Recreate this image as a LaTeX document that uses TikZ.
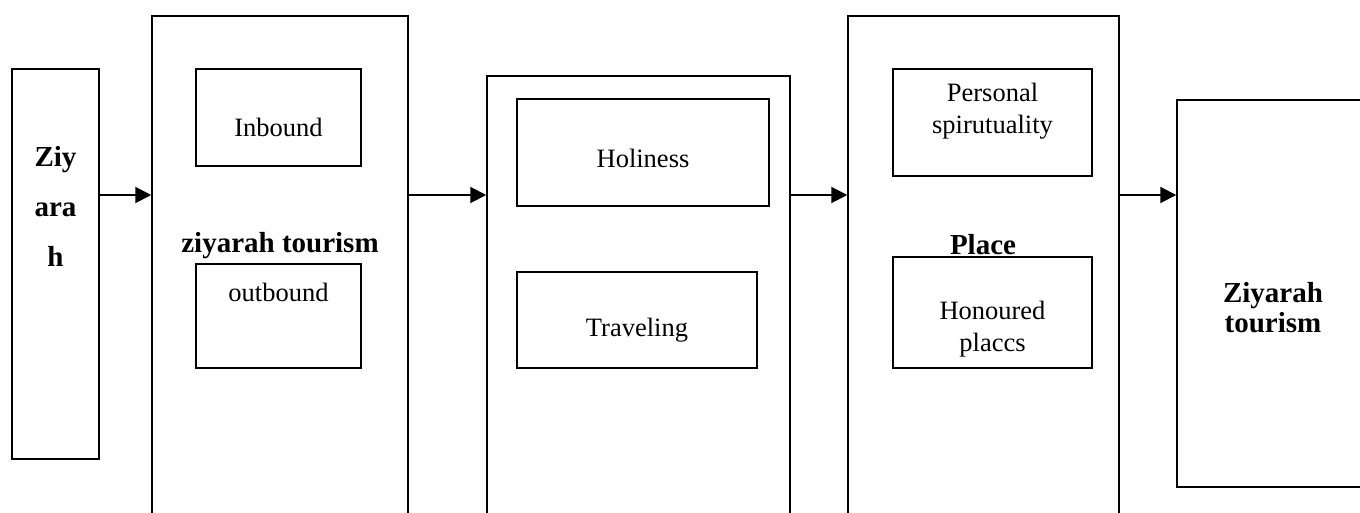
\documentclass[tikz,border=0pt]{standalone}
\usepackage{fontspec}
\setmainfont{Liberation Serif}
\usetikzlibrary{positioning,arrows.meta}

\begin{document}
\begin{tikzpicture}[x=0.5pt,y=-0.5pt,
      box/.style={draw=black,line width=0.75pt,inner sep=0pt},
      txt/.style={font=\fontsize{13.25}{16}\selectfont,align=center,inner sep=0pt},
      head/.style={font=\fontsize{14.5}{15}\selectfont\bfseries,align=center,inner sep=0pt},
      arrow/.style={-{Triangle[length=8pt,width=8pt]},line width=1pt,draw=black}
    ]
    \useasboundingbox (0,0) rectangle (1360,513);
    \clip (0,0) rectangle (1360,513);
    % outer boxes
    \node[box,minimum width=43.5pt,minimum height=195pt] at (55.5,264) (ziy) {};
    \node[box,minimum width=128pt,minimum height=292pt] at (280,308) (tour) {};
    \node[box,minimum width=151.5pt,minimum height=262pt] at (638.5,338) (motive) {};
    \node[box,minimum width=135.5pt,minimum height=292pt] at (983.5,308) (place) {};
    \node[box,minimum width=111.5pt,minimum height=193.5pt] at (1288.5,293.5) (result) {};
    % inner boxes
    \node[box,minimum width=82.5pt,minimum height=48.5pt] at (278.5,117.5) (inb) {};
    \node[box,minimum width=82.5pt,minimum height=52pt] at (278.5,316) (outb) {};
    \node[box,minimum width=126pt,minimum height=53.5pt] at (643,152.5) (holy) {};
    \node[box,minimum width=120pt,minimum height=48pt] at (637,320) (travel) {};
    \node[box,minimum width=99.5pt,minimum height=53.5pt] at (992.5,122.5) (spirit) {};
    \node[box,minimum width=99.5pt,minimum height=55.5pt] at (992.5,312.5) (honour) {};
    % texts
    \node[head,font=\fontsize{14.5}{25}\selectfont\bfseries] at (55.5,206) (ziytext) {Ziy\\ara\\h};
    \node[head] at (280,246) (tourtext) {ziyarah tourism};
    \node[txt] at (278.5,127) (inbtext) {Inbound};
    \node[txt] at (278.5,292) (outbtext) {outbound};
    \node[txt] at (643,158) (holytext) {Holiness};
    \node[txt] at (637,330) (traveltext) {Traveling};
    \node[txt] at (992.5,111) (spirittext) {Personal\\spirutuality};
    \node[head] at (983,245) (placetext) {Place};
    \node[txt] at (992.5,329) (honourtext) {Honoured\\placcs};
    \node[head] at (1273,308) (resulttext) {Ziyarah\\tourism};
    % connectors
    \coordinate (flow) at (0,195);
    \draw[arrow] (ziy.east |- flow) -- (tour.west |- flow);
    \draw[arrow] (tour.east |- flow) -- (motive.west |- flow);
    \draw[arrow] (motive.east |- flow) -- (place.west |- flow);
    \draw[arrow] (place.east |- flow) -- (result.west |- flow);
  \end{tikzpicture}
\end{document}
